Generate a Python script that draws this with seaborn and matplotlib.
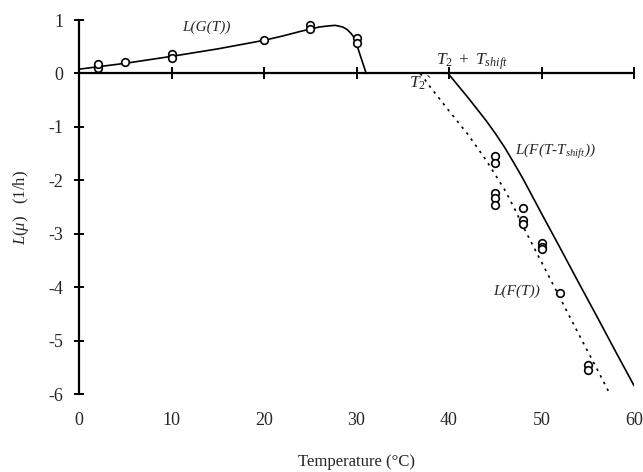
import matplotlib
matplotlib.use("Agg")
import matplotlib.pyplot as plt
import seaborn as sns
import pandas as pd

# ---- data ----
g_curve_T = [0, 5, 10, 15, 20, 22, 24, 25, 26, 27, 27.7, 28.5, 29, 29.4, 29.8, 30.4, 31.05]
g_curve_L = [0.08, 0.19, 0.32, 0.46, 0.62, 0.70, 0.79, 0.83, 0.87, 0.89, 0.90, 0.87, 0.82, 0.75, 0.66, 0.34, 0.0]

f_curve_T = [36.9, 38, 40, 42, 44, 46, 47, 48, 50, 52, 54, 56, 57.4]
f_curve_L = [0.0, -0.26, -0.70, -1.13, -1.62, -2.17, -2.50, -2.86, -3.53, -4.20, -4.87, -5.53, -6.0]

fs_curve_T = [39.9, 42, 44, 45, 46, 47, 48, 50, 52, 54, 56, 58, 60]
fs_curve_L = [0.0, -0.44, -0.88, -1.12, -1.38, -1.67, -1.97, -2.62, -3.26, -3.91, -4.55, -5.20, -5.84]

g_pts_T = [2, 2, 5, 10, 10, 20, 25, 25, 30, 30]
g_pts_L = [0.11, 0.17, 0.21, 0.36, 0.29, 0.62, 0.90, 0.84, 0.66, 0.57]

f_pts_T = [45, 45, 45, 45, 45, 48, 48, 48, 50, 50, 50, 52, 55, 55]
f_pts_L = [-1.54, -1.68, -2.23, -2.33, -2.46, -2.52, -2.74, -2.82, -3.18, -3.24, -3.29, -4.10, -5.46, -5.55]

x_ticks = [0, 10, 20, 30, 40, 50, 60]
y_ticks = [-6, -5, -4, -3, -2, -1, 0, 1]

sns.set_style("white")
plt.rcParams["font.family"] = ["Liberation Serif", "DejaVu Serif"]
plt.rcParams["mathtext.fontset"] = "custom"
plt.rcParams["mathtext.rm"] = "Liberation Serif"
plt.rcParams["mathtext.it"] = "Liberation Serif:italic"
plt.rcParams["mathtext.bf"] = "Liberation Serif:bold"
plt.rcParams["axes.unicode_minus"] = False

fig = plt.figure(figsize=(6.43, 4.72), dpi=100)
ax = fig.add_axes([0.1229, 0.165, 0.8631, 0.7926])

g_df = pd.DataFrame({"T": g_curve_T, "L": g_curve_L})
f_df = pd.DataFrame({"T": f_curve_T, "L": f_curve_L})
fs_df = pd.DataFrame({"T": fs_curve_T, "L": fs_curve_L})

sns.lineplot(data=g_df, x="T", y="L", sort=False, estimator=None, color="black", lw=1.2, ax=ax, zorder=3)
sns.lineplot(data=fs_df, x="T", y="L", sort=False, estimator=None, color="black", lw=1.2, ax=ax, zorder=3)
sns.lineplot(data=f_df, x="T", y="L", sort=False, estimator=None, color="black", lw=1.2,
             linestyle=(0, (1.5, 3.0)), ax=ax, zorder=3)

pts = pd.DataFrame({"T": g_pts_T + f_pts_T, "L": g_pts_L + f_pts_L})
sns.scatterplot(data=pts, x="T", y="L", marker="o", s=30, facecolor="white",
                edgecolor="black", linewidth=1.2, ax=ax, zorder=4, clip_on=False)

ax.set_xlim(0, 60)
ax.set_ylim(-6, 1)
ax.set_xticks(x_ticks)
ax.set_yticks(y_ticks)

for s in ["top", "right"]:
    ax.spines[s].set_visible(False)
ax.spines["bottom"].set_position(("data", 0))
for s in ["left", "bottom"]:
    ax.spines[s].set_linewidth(1.6)
    ax.spines[s].set_color("black")

ax.tick_params(axis="x", bottom=True, direction="inout", length=9, width=1.4,
               labelbottom=False, color="black")
ax.tick_params(axis="y", left=True, direction="inout", length=7, width=1.4,
               labelsize=13, pad=8, color="black")
ax.set_xlabel("")
ax.set_ylabel(r"$\mathit{L(\mu)}$   (1/h)", fontsize=12, labelpad=12)

sec = ax.secondary_xaxis("bottom")
sec.set_xticks(x_ticks)
sec.tick_params(bottom=False, length=0, pad=13, labelsize=13)
sec.spines["bottom"].set_visible(False)
sec.set_xlabel("Temperature (°C)", fontsize=12, labelpad=18)

ax.text(11.2, 0.86, "L(G(T))", fontstyle="italic", fontsize=11, va="center", ha="left")
ax.text(38.6, 0.22, r"$T_{2}\ +\ T_{shift}$", fontsize=12.5, va="center", ha="left")
ax.text(35.7, -0.17, r"$T_{2}$`", fontsize=12.5, va="center", ha="left")
ax.text(47.1, -1.46, r"L(F(T-T$_{shift}$))", fontstyle="italic", fontsize=11, va="center", ha="left")
ax.text(44.8, -4.08, "L(F(T))", fontstyle="italic", fontsize=11, va="center", ha="left")

fig.savefig("out.png", dpi=100)
